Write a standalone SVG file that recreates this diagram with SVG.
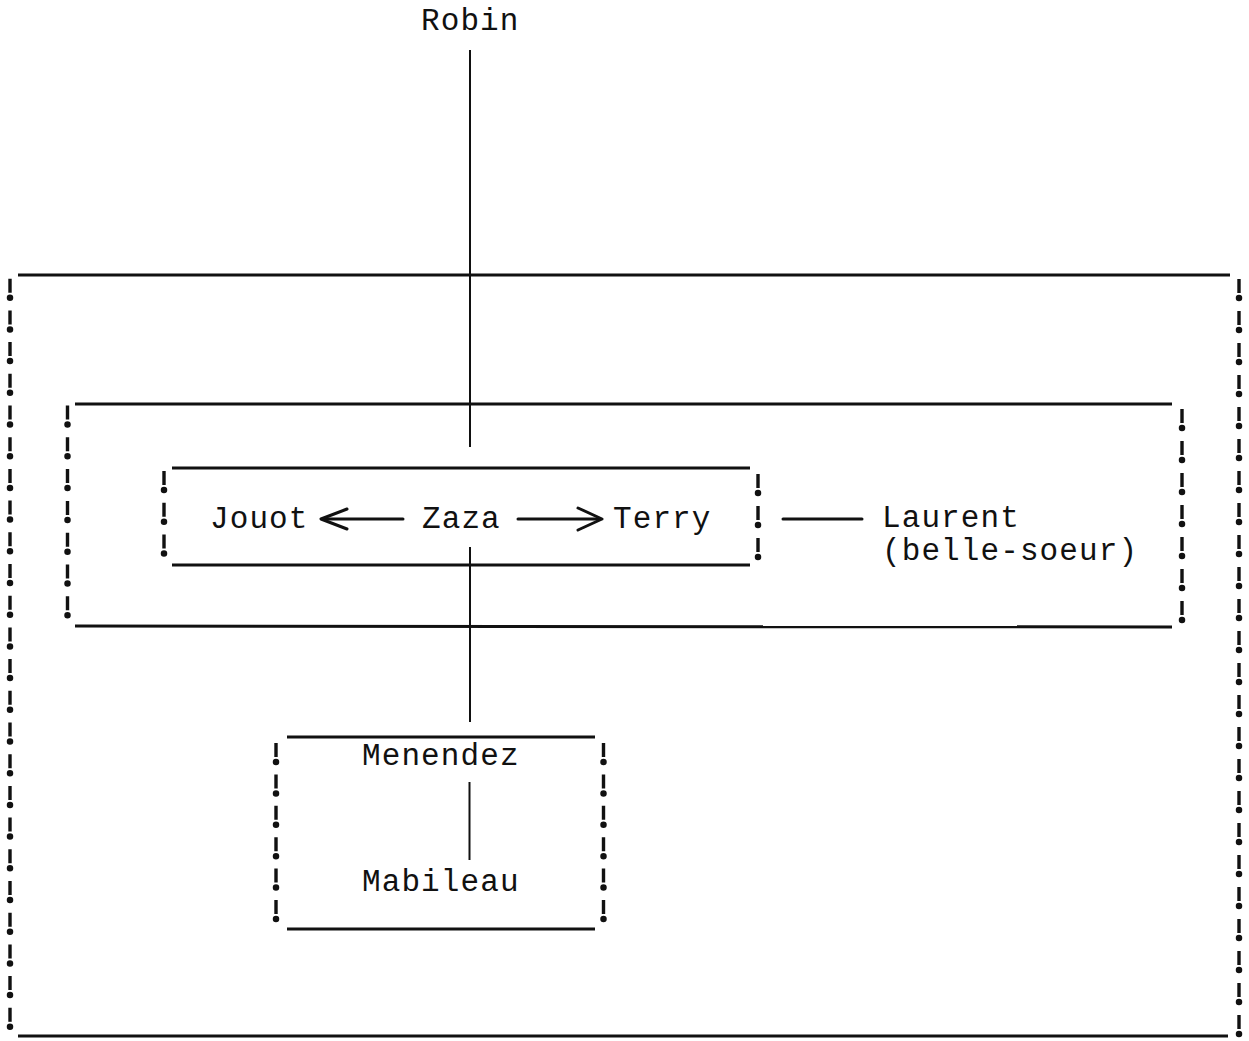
<svg xmlns="http://www.w3.org/2000/svg" width="1249" height="1041" viewBox="0 0 1249 1041">
<style>
  .bg{fill:#ffffff}
  .t{font-family:"Liberation Mono","Courier New",monospace;font-size:31px;letter-spacing:1.1px;fill:#111}
  .h{stroke:#111;stroke-width:3;fill:none}
  .stem{stroke:#111;stroke-width:3.4;fill:none}
  .dot{stroke:#111;stroke-width:6.5;stroke-linecap:round;fill:none}
  .c{stroke:#111;stroke-width:2;fill:none}
  .a{stroke:#111;stroke-width:3;fill:none;stroke-linecap:round;stroke-linejoin:round}
</style>
<rect class="bg" x="0" y="0" width="1249" height="1041"/>

<g id="outer-box">
  <line class="h" x1="18" y1="275" x2="1230" y2="275"/>
  <line class="h" x1="18" y1="1036" x2="1228" y2="1036"/>
  <line class="stem" x1="10" y1="278.7" x2="10" y2="1021.8" stroke-dasharray="14 17.7"/>
  <line class="dot" x1="10" y1="297.7" x2="10" y2="1026.9" stroke-dasharray="0 31.7"/>
  <line class="stem" x1="1239" y1="279" x2="1239" y2="1029" stroke-dasharray="14 18"/>
  <line class="dot" x1="1239" y1="298" x2="1239" y2="1034.1" stroke-dasharray="0 32"/>
</g>

<g id="family-box">
  <line class="h" x1="75" y1="404" x2="1172" y2="404"/>
  <line class="h" x1="75" y1="626" x2="1172" y2="627"/>
  <line class="stem" x1="67.5" y1="405.5" x2="67.5" y2="610.3" stroke-dasharray="14 17.8"/>
  <line class="dot" x1="67.5" y1="424.5" x2="67.5" y2="615.4" stroke-dasharray="0 31.8"/>
  <line class="stem" x1="1182" y1="409" x2="1182" y2="615" stroke-dasharray="14 18"/>
  <line class="dot" x1="1182" y1="428" x2="1182" y2="620.1" stroke-dasharray="0 32"/>
</g>

<g id="core-box">
  <line class="h" x1="172" y1="468" x2="750" y2="468"/>
  <line class="h" x1="172" y1="565" x2="750" y2="565"/>
  <line class="stem" x1="164" y1="471" x2="164" y2="548.4" stroke-dasharray="14 17.7"/>
  <line class="dot" x1="164" y1="490" x2="164" y2="553.5" stroke-dasharray="0 31.7"/>
  <line class="stem" x1="758" y1="474" x2="758" y2="552" stroke-dasharray="14 18"/>
  <line class="dot" x1="758" y1="493" x2="758" y2="557.1" stroke-dasharray="0 32"/>
</g>

<g id="menendez-box">
  <line class="h" x1="287" y1="737" x2="595" y2="737"/>
  <line class="h" x1="287" y1="929" x2="595" y2="929"/>
  <line class="stem" x1="276" y1="743" x2="276" y2="914" stroke-dasharray="14 17.4"/>
  <line class="dot" x1="276" y1="762" x2="276" y2="919.1" stroke-dasharray="0 31.4"/>
  <line class="stem" x1="603.5" y1="743" x2="603.5" y2="914" stroke-dasharray="14 17.4"/>
  <line class="dot" x1="603.5" y1="762" x2="603.5" y2="919.1" stroke-dasharray="0 31.4"/>
</g>

<g id="connectors">
  <line class="c" x1="470" y1="50" x2="470" y2="447"/>
  <line class="c" x1="470" y1="547" x2="470" y2="722"/>
  <line class="c" x1="469.5" y1="782" x2="469.5" y2="860"/>
  <line class="a" x1="783" y1="519" x2="862" y2="519"/>
  <line class="a" x1="323" y1="519" x2="403" y2="519"/>
  <polyline class="a" points="347,509 321,519 347,529"/>
  <line class="a" x1="518" y1="519" x2="600" y2="519"/>
  <polyline class="a" points="578,508 602,519 578,530"/>
</g>

<g id="node-robin"><text class="t" x="421" y="30">Robin</text></g>
<g id="node-jouot"><text class="t" x="210" y="528">Jouot</text></g>
<g id="node-zaza"><text class="t" x="422" y="528">Zaza</text></g>
<g id="node-terry"><text class="t" x="613" y="528">Terry</text></g>
<g id="node-laurent">
  <text class="t" x="882" y="527">Laurent</text>
  <text class="t" x="882" y="560">(belle-soeur)</text>
</g>
<g id="node-menendez"><text class="t" x="362" y="765">Menendez</text></g>
<g id="node-mabileau"><text class="t" x="362" y="891">Mabileau</text></g>
</svg>
